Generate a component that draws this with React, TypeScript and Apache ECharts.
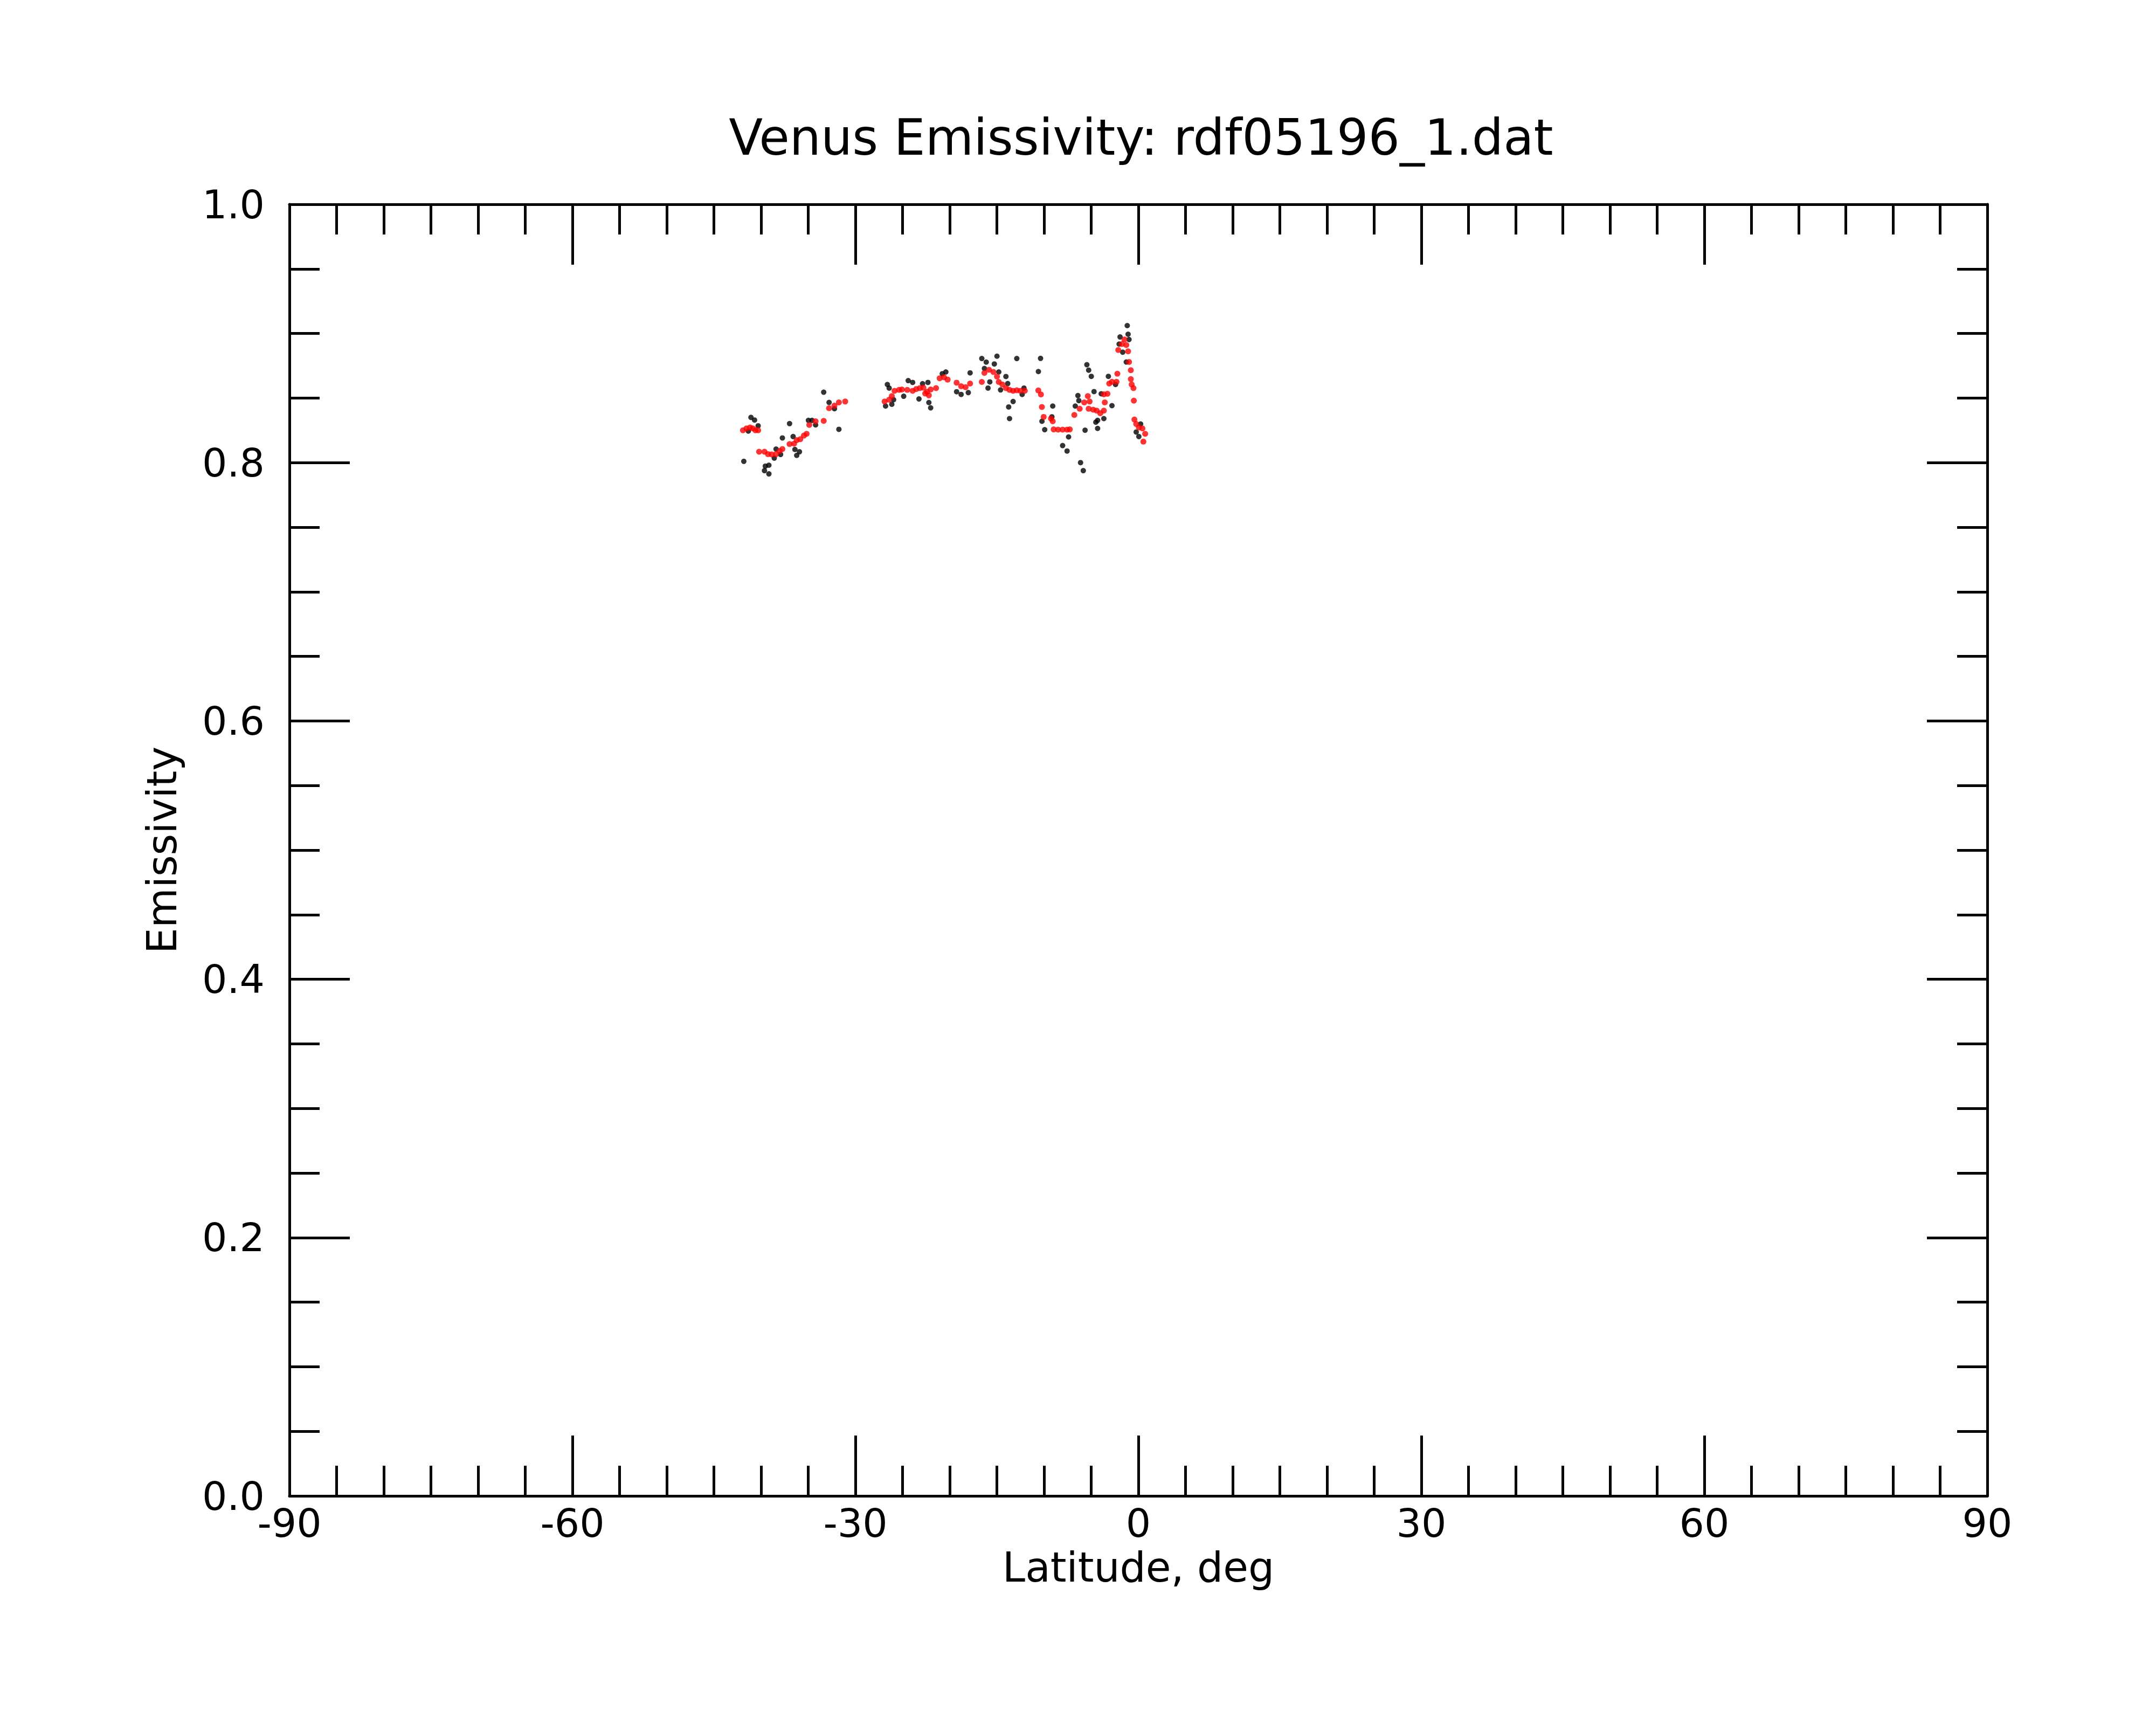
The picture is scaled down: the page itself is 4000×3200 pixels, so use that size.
import React, { useEffect, useRef } from "react";
import * as echarts from "echarts";

const chartTitle = "Venus Emissivity: rdf05196_1.dat";
const xAxisName = "Latitude, deg";
const yAxisName = "Emissivity";

// Raw emissivity samples [latitude, emissivity] (black)
const rawPoints: [number, number][] = [
  [-41.83, 0.801], [-41.07, 0.835], [-40.69, 0.833], [-40.31, 0.8285], [-41.35, 0.8244],
  [-38.41, 0.8105], [-37.93, 0.8063], [-38.6, 0.8035], [-39.55, 0.7973], [-39.17, 0.798],
  [-39.64, 0.7938], [-39.17, 0.7913], [-37.74, 0.8191], [-36.98, 0.8302], [-36.6, 0.8202],
  [-36.41, 0.8102], [-35.93, 0.8084], [-36.22, 0.8056], [-34.98, 0.8327], [-34.6, 0.8327],
  [-34.22, 0.8292], [-33.36, 0.8545], [-32.79, 0.8466], [-32.22, 0.8417], [-31.75, 0.8258],
  [-26.61, 0.8605], [-26.42, 0.8577], [-26.8, 0.8438], [-26.14, 0.8452], [-25.95, 0.8487],
  [-24.88, 0.8514], [-24.4, 0.8635], [-23.93, 0.8621], [-23.26, 0.8493], [-22.88, 0.8611],
  [-22.31, 0.8621], [-22.21, 0.8465], [-22.02, 0.8424], [-20.41, 0.8702], [-20.79, 0.8688],
  [-19.27, 0.8549], [-18.79, 0.8528], [-18.03, 0.8542], [-17.84, 0.8695], [-16.6, 0.8806],
  [-16.13, 0.8778], [-14.99, 0.8824], [-15.27, 0.8764], [-16.32, 0.8729], [-15.75, 0.8625],
  [-15.94, 0.8577], [-14.8, 0.8702], [-14.04, 0.8667], [-13.85, 0.8612], [-14.61, 0.8563],
  [-12.89, 0.8806], [-13.28, 0.8473], [-13.75, 0.8431], [-13.66, 0.8341], [-12.32, 0.8528],
  [-12.13, 0.8577], [-10.37, 0.8807], [-10.6, 0.8705], [-10.22, 0.832], [-9.93, 0.8255],
  [-9.08, 0.8438], [-9.17, 0.8355], [-7.4, 0.8199], [-8.03, 0.8132], [-7.56, 0.809],
  [-6.13, 0.8], [-5.84, 0.7938], [-5.65, 0.8251], [-6.69, 0.8438], [-6.31, 0.848],
  [-6.41, 0.8519], [-5.46, 0.8758], [-5.27, 0.8716], [-4.99, 0.8668], [-4.32, 0.8327],
  [-4.51, 0.8313], [-4.32, 0.8265], [-3.66, 0.8341], [-4.7, 0.855], [-3.94, 0.8533],
  [-2.8, 0.8441], [-3.18, 0.8668], [-2.42, 0.8605], [-1.18, 0.9061], [-1.94, 0.8973],
  [-1.09, 0.8994], [-0.99, 0.8953], [-2.04, 0.8918], [-1.66, 0.8855], [-1.28, 0.8779],
  [0.24, 0.8299], [-0.23, 0.8237], [0.05, 0.8202],
];

// Smoothed emissivity [latitude, emissivity] (red)
const smoothPoints: [number, number][] = [
  [-41.92, 0.825], [-41.55, 0.8265], [-41.17, 0.8272], [-40.88, 0.8265], [-40.6, 0.825], [-40.31, 0.825],
  [-40.21, 0.8084], [-39.64, 0.8084], [-39.26, 0.8066], [-38.88, 0.8063], [-38.41, 0.8066], [-38.03, 0.8091], [-37.74, 0.8105],
  [-36.98, 0.8144], [-36.5, 0.8147], [-36.22, 0.8174], [-35.84, 0.8181], [-35.46, 0.8209], [-35.17, 0.8223],
  [-34.89, 0.8292], [-34.22, 0.832], [-33.36, 0.8323],
  [-32.79, 0.8421], [-32.22, 0.8441], [-31.75, 0.8466], [-31.08, 0.8473],
  [-26.9, 0.8473], [-26.42, 0.8487], [-26.14, 0.8515], [-25.85, 0.8556], [-25.37, 0.8563],
  [-25.07, 0.8566], [-24.5, 0.8563], [-23.93, 0.8556], [-23.55, 0.857], [-23.17, 0.8577], [-22.79, 0.858],
  [-22.41, 0.8549], [-22.02, 0.8566], [-21.45, 0.8577], [-22.6, 0.8535], [-22.21, 0.8521],
  [-21.07, 0.8653], [-20.6, 0.866], [-20.22, 0.8643],
  [-19.27, 0.8619], [-18.79, 0.8591], [-18.32, 0.8584], [-17.84, 0.8612],
  [-16.6, 0.8625], [-16.32, 0.8695], [-15.84, 0.8719], [-15.37, 0.8702], [-14.99, 0.8667], [-14.8, 0.8625],
  [-14.42, 0.8605], [-14.04, 0.8577], [-13.66, 0.8563], [-13.28, 0.8556], [-12.89, 0.856], [-12.51, 0.8556], [-12.04, 0.8556],
  [-10.61, 0.8559], [-10.33, 0.8528], [-10.23, 0.8431], [-10.04, 0.8354],
  [-9.27, 0.8341], [-9.08, 0.832],
  [-8.98, 0.8257], [-8.51, 0.8255], [-8.03, 0.8255], [-7.56, 0.8255], [-7.27, 0.8257],
  [-6.79, 0.8369], [-6.22, 0.8417], [-5.74, 0.8466], [-5.36, 0.8515], [-5.17, 0.8473],
  [-5.27, 0.8417], [-4.79, 0.841], [-4.42, 0.8403], [-4.04, 0.8383], [-3.66, 0.8403],
  [-3.56, 0.8466], [-3.66, 0.8529], [-3.28, 0.8533],
  [-3.09, 0.8612], [-2.8, 0.8626], [-2.32, 0.8626], [-2.23, 0.8688],
  [-1.47, 0.8953], [-1.75, 0.8918], [-1.28, 0.8911], [-2.13, 0.8872], [-1.09, 0.8862],
  [-0.99, 0.8779], [-0.8, 0.8716], [-0.8, 0.8647], [-0.71, 0.8605], [-0.52, 0.8577], [-0.48, 0.848],
  [-0.42, 0.8334], [-0.23, 0.8299], [0.05, 0.8272], [0.43, 0.8265], [0.72, 0.8223], [0.53, 0.8163],
];

const X_MIN = -90;
const X_MAX = 90;
const X_STEP = 30;
const Y_MIN = 0;
const Y_MAX = 1;
const Y_STEP = 0.2;

const FONT = "DejaVu Sans";
const LINE = { color: "#000", width: 5 };

export default function App() {
  const ref = useRef<HTMLDivElement>(null);
  useEffect(() => {
    document.body.style.margin = "0";
    if (!ref.current) return;
    const chart = echarts.init(ref.current, undefined, { renderer: "svg" });
    const tickCommon = {
      axisLine: { show: true, onZero: false, lineStyle: LINE },
      axisTick: { show: true, inside: true, length: 112, lineStyle: LINE },
      splitLine: { show: false },
    };
    const xBase = {
      type: "value",
      min: X_MIN,
      max: X_MAX,
      interval: X_STEP,
      minorTick: { show: true, splitNumber: 6, length: 56, lineStyle: LINE },
      ...tickCommon,
    };
    const yBase = {
      type: "value",
      min: Y_MIN,
      max: Y_MAX,
      interval: Y_STEP,
      minorTick: { show: true, splitNumber: 4, length: 56, lineStyle: LINE },
      ...tickCommon,
    };
    chart.setOption({
      animation: false,
      backgroundColor: "#fff",
      title: {
        text: chartTitle,
        left: 2112,
        top: 204,
        textAlign: "center",
        textStyle: { fontFamily: FONT, fontSize: 92, fontWeight: "normal", color: "#000" },
      },
      grid: { left: 537, right: 313, top: 379, bottom: 425, containLabel: false },
      xAxis: [
        {
          ...xBase,
          position: "bottom",
          name: xAxisName,
          nameLocation: "middle",
          nameGap: 94,
          nameTextStyle: { fontFamily: FONT, fontSize: 76, color: "#000" },
          axisLabel: { show: true, margin: 14, fontFamily: FONT, fontSize: 73, color: "#000" },
        },
        { ...xBase, position: "top", axisLabel: { show: false } },
      ],
      yAxis: [
        {
          ...yBase,
          position: "left",
          name: yAxisName,
          nameLocation: "middle",
          nameRotate: 90,
          nameGap: 199,
          nameTextStyle: { fontFamily: FONT, fontSize: 76, color: "#000" },
          axisLabel: {
            show: true,
            margin: 46,
            fontFamily: FONT,
            fontSize: 73,
            color: "#000",
            formatter: (v: number) => v.toFixed(1),
          },
        },
        { ...yBase, position: "right", axisLabel: { show: false } },
      ],
      series: [
        {
          name: "raw",
          type: "scatter",
          xAxisIndex: 0,
          yAxisIndex: 0,
          symbol: "circle",
          symbolSize: 10,
          itemStyle: { color: "#000" },
          data: rawPoints,
        },
        {
          name: "smoothed",
          type: "scatter",
          xAxisIndex: 0,
          yAxisIndex: 0,
          symbol: "circle",
          symbolSize: 11,
          itemStyle: { color: "#ff0000" },
          data: smoothPoints,
        },
      ],
    });
    return () => chart.dispose();
  }, []);
  return <div ref={ref} style={{ width: 4000, height: 3200 }} />;
}
